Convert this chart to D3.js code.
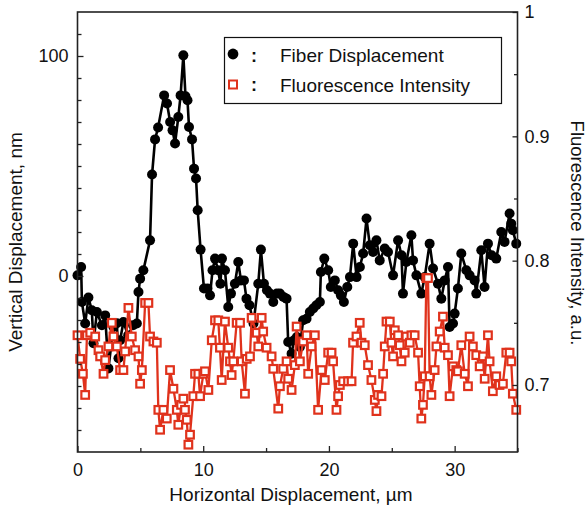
<!DOCTYPE html>
<html><head><meta charset="utf-8">
<script src="https://cdn.jsdelivr.net/npm/d3@7"></script>
<style>
body{margin:0;background:#fff}
svg{display:block}
text{font-family:"Liberation Sans",Arial,Helvetica,sans-serif;fill:#111}
</style>
</head><body>
<svg id="chart" width="588" height="510"></svg>
<script>
// ---------- data ----------
const seriesNames = ["Fiber Displacement", "Fluorescence Intensity"];
const fiberX = [0.00,0.29,0.35,0.61,0.87,1.14,1.27,1.54,1.94,2.20,2.46,2.86,3.13,3.26,3.39,3.65,4.03,4.42,4.72,4.85,4.98,5.24,5.77,5.93,6.17,6.41,6.89,7.12,7.37,7.56,7.76,8.02,8.20,8.42,8.59,8.75,8.87,9.11,9.27,9.43,9.56,9.79,10.06,10.34,10.54,10.74,10.94,11.18,11.37,11.49,11.73,11.99,12.21,12.52,12.79,13.00,13.24,13.44,13.68,14.00,14.38,14.59,14.83,15.07,15.31,15.57,15.86,16.10,16.38,16.63,16.76,17.03,17.22,17.45,17.69,17.95,18.22,18.48,18.75,19.00,19.28,19.36,19.63,19.94,20.15,20.47,20.73,20.95,21.19,21.46,21.67,21.93,22.20,22.46,22.72,22.99,23.25,23.51,23.78,24.04,24.44,24.70,25.10,25.50,25.77,25.89,26.16,26.56,26.69,26.96,27.35,27.62,28.01,28.28,28.67,28.94,29.21,29.47,29.60,29.87,30.00,30.26,30.53,30.93,31.19,31.59,31.72,32.12,32.38,32.65,32.94,33.31,33.71,33.97,34.37,34.50,34.63,34.90];
const fiberY = [0.3,4.1,-11.8,-21.6,-9.8,-15.6,-30.6,-16.4,-22.4,-17.9,-42.0,-23.2,-21.5,-37.4,-29.2,-20.9,-27.0,-22.4,-21.6,-7.3,-1.2,2.6,16.2,46.1,62.1,67.5,82.1,78.4,70.0,66.2,60.2,72.3,82.1,100.3,81.7,79.9,67.7,62.1,48.8,44.3,29.9,12.0,-5.7,-5.7,-8.8,2.6,7.9,2.6,-3.5,7.9,2.6,-14.1,-8.0,-3.5,6.4,-2.0,-2.0,-10.3,-13.3,-21.6,-3.5,12.0,-3.5,-6.5,-8.0,-11.8,-8.0,-8.0,-9.5,-10.3,-30.0,-35.3,-29.2,-27.7,-32.3,-20.1,-19.4,-16.4,-14.8,-13.3,-11.8,1.8,7.9,2.6,-5.0,-2.0,-6.5,-8.8,-11.8,-5.0,-0.5,14.7,-0.5,4.1,10.2,26.1,14.0,10.9,16.2,7.1,12.5,10.9,0.3,16.2,9.4,-8.0,6.4,18.5,7.1,0.3,-8.0,-0.5,14.7,3.4,-3.5,-10.3,-2.0,4.1,-23.2,-21.6,-17.1,-5.7,10.2,2.6,0.3,-2.0,-8.0,11.7,-5.0,14.7,9.4,7.9,20.0,15.5,28.4,23.8,20.8,14.7];
const fluorX = [0.00,0.21,0.43,0.61,0.75,1.01,1.41,1.67,1.80,2.07,2.20,2.46,2.73,2.86,3.13,3.39,3.65,3.79,4.05,4.32,4.58,4.85,4.98,5.12,5.38,5.64,5.77,6.04,6.31,6.43,6.57,6.83,7.10,7.36,7.63,7.90,8.02,8.24,8.42,8.55,8.69,8.82,8.95,9.21,9.35,9.61,9.75,10.01,10.14,10.41,10.68,10.94,11.20,11.33,11.47,11.73,11.99,12.13,12.26,12.39,12.66,12.93,13.06,13.32,13.46,13.72,13.85,14.25,14.38,14.65,14.77,15.04,15.44,15.57,15.97,16.10,16.36,16.63,16.76,17.03,17.29,17.43,17.69,17.95,18.22,18.35,18.62,18.88,19.14,19.41,19.67,19.94,20.21,20.33,20.60,20.73,20.87,21.13,21.52,21.80,21.92,22.19,22.45,22.59,22.85,23.11,23.38,23.65,23.78,23.91,24.18,24.31,24.44,24.58,24.84,24.97,25.10,25.24,25.50,25.63,25.77,26.03,26.16,26.43,26.56,26.82,27.09,27.22,27.35,27.48,27.62,27.75,27.88,28.01,28.15,28.41,28.55,28.81,29.07,29.21,29.47,29.60,29.87,30.13,30.26,30.53,30.80,31.06,31.19,31.45,31.72,31.99,32.25,32.39,32.65,32.78,33.04,33.31,33.57,33.84,34.11,34.37,34.50,34.63,34.90];
const fluorY = [0.740,0.721,0.709,0.692,0.740,0.742,0.739,0.728,0.723,0.709,0.720,0.731,0.750,0.739,0.731,0.712,0.712,0.727,0.762,0.739,0.728,0.723,0.701,0.712,0.766,0.766,0.739,0.735,0.734,0.680,0.664,0.680,0.673,0.712,0.697,0.680,0.668,0.684,0.689,0.680,0.672,0.652,0.660,0.691,0.709,0.709,0.691,0.709,0.711,0.696,0.736,0.752,0.752,0.730,0.704,0.751,0.730,0.719,0.708,0.719,0.750,0.750,0.719,0.693,0.721,0.723,0.754,0.742,0.731,0.754,0.743,0.730,0.723,0.713,0.681,0.699,0.713,0.719,0.705,0.696,0.716,0.747,0.719,0.735,0.740,0.709,0.731,0.740,0.680,0.712,0.704,0.726,0.726,0.719,0.680,0.691,0.700,0.703,0.703,0.703,0.734,0.739,0.750,0.734,0.732,0.716,0.704,0.688,0.679,0.692,0.691,0.709,0.731,0.751,0.751,0.734,0.723,0.744,0.740,0.732,0.719,0.726,0.739,0.734,0.740,0.740,0.726,0.699,0.673,0.684,0.707,0.786,0.786,0.707,0.692,0.712,0.731,0.743,0.755,0.730,0.724,0.691,0.715,0.712,0.711,0.732,0.709,0.699,0.739,0.731,0.724,0.715,0.723,0.705,0.740,0.719,0.695,0.707,0.700,0.701,0.726,0.726,0.719,0.693,0.680];

const xMajor = [0,10,20,30], xMinor = [5,15,25,35];
const yLeftMajor = [0,100];
const yLeftMinor = [-70,-60,-50,-40,-30,-20,-10,10,20,30,40,50,60,70,80,90,110];
const yRightMajor = [0.7,0.8,0.9,1], yRightMinor = [0.75,0.85,0.95];
const yRightLabels = ["0.7","0.8","0.9","1"];

const xTitle = "Horizontal Displacement, µm";
const yLeftTitle = "Vertical Displacement, nm";
const yRightTitle = "Fluorescence Intensity, a.u.";

// ---------- layout ----------
const W = 588, H = 510;
const m = {left:77.5, right:70.5, top:12, bottom:58};
const red = "#e0321c";
const svg = d3.select("#chart");
const x = d3.scaleLinear().domain([0,35]).range([m.left, W-m.right]);
const yL = d3.scaleLinear().domain([-80,120]).range([H-m.bottom, m.top]);
const yR = d3.scaleLinear().domain([0.6461,1]).range([H-m.bottom, m.top]);

const fiber = fiberX.map((d,i)=>({x:d,y:fiberY[i]}));
const fluor = fluorX.map((d,i)=>({x:d,y:fluorY[i]}));

// series: fiber (black) first, then fluorescence (red) on top
const gData = svg.append("g");
gData.append("path").datum(fiber)
  .attr("fill","none").attr("stroke","#000").attr("stroke-width",2.6).attr("stroke-linejoin","round")
  .attr("d", d3.line().x(d=>x(d.x)).y(d=>yL(d.y)));
gData.selectAll("circle.f").data(fiber).join("circle")
  .attr("cx",d=>x(d.x)).attr("cy",d=>yL(d.y)).attr("r",5).attr("fill","#000");

gData.append("path").datum(fluor)
  .attr("fill","none").attr("stroke",red).attr("stroke-width",2.3).attr("stroke-linejoin","round")
  .attr("d", d3.line().x(d=>x(d.x)).y(d=>yR(d.y)));
gData.selectAll("rect.q").data(fluor).join("rect")
  .attr("x",d=>x(d.x)-3.8).attr("y",d=>yR(d.y)-3.8).attr("width",7.6).attr("height",7.6)
  .attr("fill","#fff").attr("stroke",red).attr("stroke-width",2.2);

// ---------- axes ----------
const fs = "18px";
function styleAxis(g){
  g.select(".domain").remove();
  g.selectAll("line").attr("stroke","#222").attr("stroke-width",1.3);
  g.selectAll("text").attr("font-size",fs).attr("fill","#111")
   .attr("font-family","'Liberation Sans',Arial,sans-serif");
}
// bottom
svg.append("g").attr("transform",`translate(0,${H-m.bottom})`)
  .call(d3.axisBottom(x).tickValues(xMajor).tickSize(-6).tickPadding(11).tickFormat(d3.format("d"))).call(styleAxis);
svg.append("g").attr("transform",`translate(0,${H-m.bottom})`)
  .call(d3.axisBottom(x).tickValues(xMinor).tickSize(-4).tickFormat("")).call(styleAxis);
// left
svg.append("g").attr("transform",`translate(${m.left},0)`)
  .call(d3.axisLeft(yL).tickValues(yLeftMajor).tickSize(-6).tickPadding(9).tickFormat(d3.format("d"))).call(styleAxis);
svg.append("g").attr("transform",`translate(${m.left},0)`)
  .call(d3.axisLeft(yL).tickValues(yLeftMinor).tickSize(-4).tickFormat("")).call(styleAxis);
// right
svg.append("g").attr("transform",`translate(${W-m.right},0)`)
  .call(d3.axisRight(yR).tickValues(yRightMajor).tickSize(-5).tickPadding(7).tickFormat((d,i)=>yRightLabels[i])).call(styleAxis);
svg.append("g").attr("transform",`translate(${W-m.right},0)`)
  .call(d3.axisRight(yR).tickValues(yRightMinor).tickSize(-3.5).tickFormat("")).call(styleAxis);

// frame
svg.append("rect").attr("x",m.left).attr("y",m.top)
  .attr("width",W-m.left-m.right).attr("height",H-m.top-m.bottom)
  .attr("fill","none").attr("stroke","#222").attr("stroke-width",1.6);

// titles
svg.append("text").attr("x",291).attr("y",501).attr("text-anchor","middle")
  .attr("font-size","19px").text(xTitle);
svg.append("text").attr("transform","translate(21.5,242) rotate(-90)").attr("text-anchor","middle")
  .attr("font-size","19px").text(yLeftTitle);
svg.append("text").attr("transform","translate(571,233) rotate(90)").attr("text-anchor","middle")
  .attr("font-size","18.5px").text(yRightTitle);

// legend
const lg = svg.append("g");
lg.append("rect").attr("x",224.5).attr("y",37.5).attr("width",277).attr("height",66)
  .attr("fill","#fff").attr("stroke","#111").attr("stroke-width",1.2);
lg.append("circle").attr("cx",233).attr("cy",54).attr("r",5.4).attr("fill","#000");
lg.append("rect").attr("x",229).attr("y",80.5).attr("width",8).attr("height",8)
  .attr("fill","#fff").attr("stroke",red).attr("stroke-width",2);
[0,1].forEach(i=>{
  const cy = i===0 ? 55 : 84.5;
  lg.append("text").attr("x",251).attr("y",cy+6.5).attr("font-size","18px").attr("font-weight","bold").text(":");
  lg.append("text").attr("x",280).attr("y",cy+7).attr("font-size","19px").text(seriesNames[i]);
});
</script>
</body></html>
